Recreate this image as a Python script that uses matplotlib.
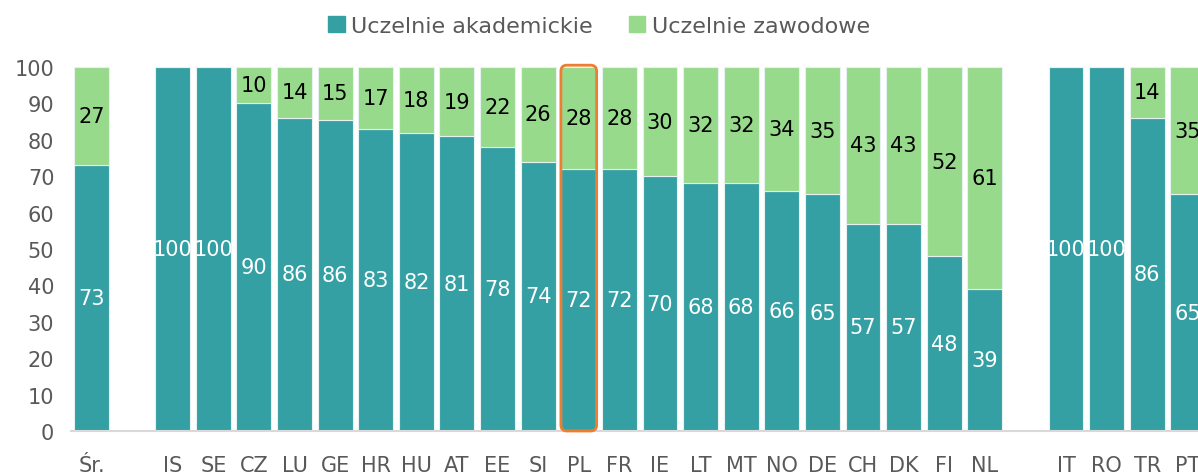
import matplotlib
matplotlib.use("Agg")
import matplotlib.pyplot as plt
from matplotlib.patches import FancyBboxPatch, Patch

plt.rcParams['font.family'] = ['DejaVu Sans']

# Values
countries = ['Śr.', '', 'IS', 'SE', 'CZ', 'LU', 'GE', 'HR', 'HU', 'AT', 'EE', 'SI', 'PL', 'FR',
             'IE', 'LT', 'MT', 'NO', 'DE', 'CH', 'DK', 'FI', 'NL', '', 'IT', 'RO', 'TR', 'PT']
academic = [73, None, 100, 100, 90, 86, 85.5, 83, 82, 81, 78, 74, 72, 72,
            70, 68, 68, 66, 65, 57, 57, 48, 39, None, 100, 100, 86, 65]
vocational = [27, None, 0, 0, 10, 14, 14.5, 17, 18, 19, 22, 26, 28, 28,
              30, 32, 32, 34, 35, 43, 43, 52, 61, None, 0, 0, 14, 35]
highlight = 'PL'

TEAL = '#35A0A4'
GREEN = '#98DA8C'
GREY = '#595959'

fig = plt.figure(figsize=(11.98, 4.77), dpi=100)
ax = fig.add_axes([71 / 1198, 1 - 432 / 477, 1 - 71 / 1198, (432 - 68) / 477])

xs = [i for i, a in enumerate(academic) if a is not None]
acad = [academic[i] for i in xs]
voc = [vocational[i] for i in xs]

ax.bar(xs, acad, width=0.86, color=TEAL, edgecolor='#e6f2f0', linewidth=0.8, zorder=2)
ax.bar(xs, voc, width=0.86, bottom=acad, color=GREEN, edgecolor='#e6f2f0', linewidth=0.8, zorder=2)

for x, a, v in zip(xs, acad, voc):
    ax.text(x, a / 2, f'{int(a + 0.5)}', ha='center', va='center', color='white', fontsize=15, zorder=3)
    if v > 0:
        ax.text(x, a + v / 2, f'{int(v + 0.5)}', ha='center', va='center', color='black', fontsize=15, zorder=3)

# orange frame around Poland
px = countries.index(highlight)
frame = FancyBboxPatch((px - 0.44, 0), 0.88, 100.5,
                       boxstyle='round,pad=0,rounding_size=0.15', mutation_aspect=11,
                       facecolor='none', edgecolor='#ED7D31', linewidth=2, zorder=4, clip_on=False)
ax.add_patch(frame)

ax.set_xlim(-0.505, 27.25)
ax.set_ylim(0, 100)
ax.set_yticks(range(0, 101, 10))
ax.set_xticks(range(len(countries)))
ax.set_xticklabels(countries)
ax.tick_params(axis='both', length=0, labelsize=15, labelcolor=GREY)
ax.tick_params(axis='x', pad=17)
ax.tick_params(axis='y', pad=12)
for s in ['top', 'right', 'left']:
    ax.spines[s].set_visible(False)
ax.spines['bottom'].set_color('#d9d9d9')
ax.spines['bottom'].set_linewidth(1.5)

handles = [Patch(color=TEAL, label='Uczelnie akademickie'),
           Patch(color=GREEN, label='Uczelnie zawodowe')]
fig.legend(handles=handles, loc='center', bbox_to_anchor=(0.5, 1 - 27 / 477), ncol=2,
           frameon=False, fontsize=16, labelcolor=GREY, handlelength=0.75, handleheight=0.75,
           handletextpad=0.3, columnspacing=1.6)

fig.savefig('out.png', dpi=100)
